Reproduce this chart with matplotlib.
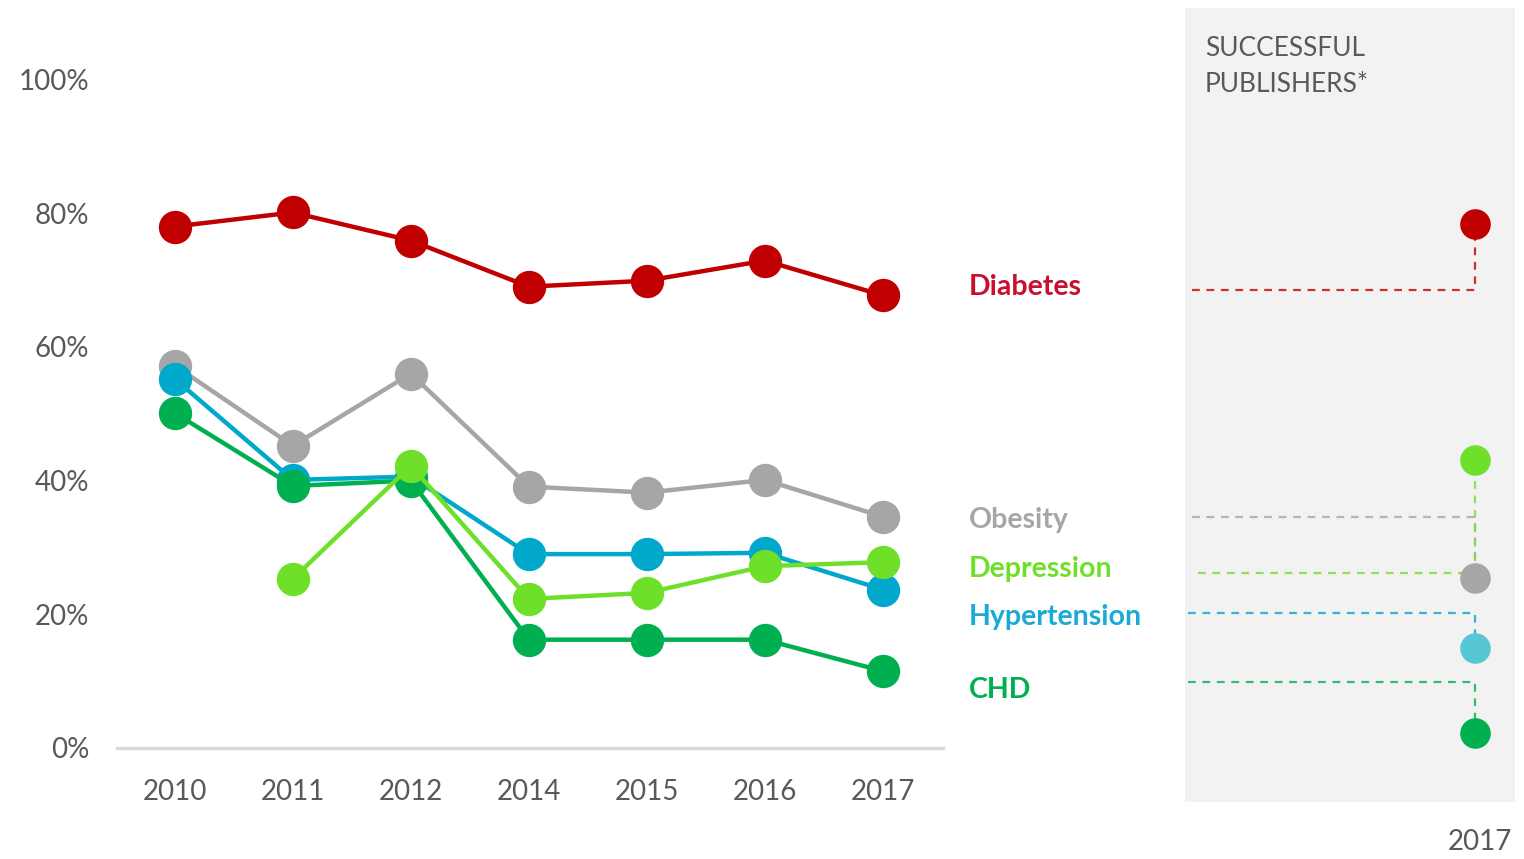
import matplotlib.pyplot as plt

plt.rcParams['font.family'] = ['Lato', 'DejaVu Sans']

# datos
years = ["2010", "2011", "2012", "2014", "2015", "2016", "2017"]
diabetes = [78.0, 80.1, 75.9, 69.0, 69.9, 72.9, 67.7]
obesity = [57.2, 45.2, 56.0, 39.1, 38.2, 40.1, 34.6]
hypertension = [55.2, 40.1, 40.6, 29.0, 29.0, 29.2, 23.7]
depression = [None, 25.3, 42.2, 22.3, 23.2, 27.2, 27.8]
chd = [50.1, 39.2, 40.0, 16.2, 16.2, 16.2, 11.5]

# valores de "successful publishers" 2017
publishers = {"Diabetes": 78.4, "Depression": 43.1, "Obesity": 25.4,
              "Hypertension": 15.0, "CHD": 2.2}

colors = {"Diabetes": "#c00000", "Obesity": "#a6a6a6", "Hypertension": "#00a8cc",
          "Depression": "#6fe02a", "CHD": "#00b050"}
label_colors = {"Diabetes": "#c8102e", "Obesity": "#a6a6a6", "Hypertension": "#1aaad6",
                "Depression": "#6fe02a", "CHD": "#00b050"}
right_dot_colors = dict(colors, Hypertension="#57c8d3")
# altura de las lineas punteadas y linea base de las etiquetas
line_y = {"Diabetes": 68.6, "Obesity": 34.6, "Depression": 26.2,
          "Hypertension": 20.2, "CHD": 9.9}
text_y = {"Diabetes": 67.7, "Obesity": 32.9, "Depression": 25.6,
          "Hypertension": 18.4, "CHD": 7.5}

W, H = 1524, 859
fig = plt.figure(figsize=(W / 100, H / 100), dpi=100)

# eje principal
ax = fig.add_axes([117 / W, (H - 748) / H, (943 - 117) / W, (748 - 46) / H])
ax.set_xlim(-0.49, 6.51)
ax.set_ylim(0, 105)
x = list(range(len(years)))

series = [("Obesity", obesity), ("Hypertension", hypertension), ("CHD", chd),
          ("Depression", depression), ("Diabetes", diabetes)]
for name, vals in series:
    xs = [i for i, v in zip(x, vals) if v is not None]
    ys = [v for v in vals if v is not None]
    ax.plot(xs, ys, color=colors[name], lw=3.2, marker="o", ms=23,
            solid_capstyle="round", clip_on=False)

for s in ["top", "right", "left"]:
    ax.spines[s].set_visible(False)
ax.spines["bottom"].set_color("#d9d9d9")
ax.spines["bottom"].set_linewidth(2.5)
ax.set_yticks([0, 20, 40, 60, 80, 100])
ax.set_yticklabels([f"{v}%" for v in [0, 20, 40, 60, 80, 100]])
ax.set_xticks(x)
ax.set_xticklabels(years)
ax.tick_params(length=0, labelsize=20, colors="#595959")
ax.tick_params(axis="y", pad=20)
ax.tick_params(axis="x", pad=22)

# etiquetas de las series
for name, yv in text_y.items():
    ax.text(6.73, yv, name, color=label_colors[name], fontsize=20.5,
            fontweight="bold", va="baseline", ha="left", clip_on=False)

# panel derecho
top_px, bot_px = 8, 802
scale = (748 - 80) / 100
panel = fig.add_axes([1185 / W, (H - bot_px) / H, (1515 - 1185) / W, (bot_px - top_px) / H])
panel.set_facecolor("#f2f2f2")
panel.set_xlim(0, 1)
panel.set_ylim(-(bot_px - 748) / scale, (748 - top_px) / scale)
for s in panel.spines.values():
    s.set_visible(False)
panel.set_xticks([])
panel.set_yticks([])

dot_x = 0.879
starts = {"Diabetes": 0.02, "Obesity": 0.02, "Depression": 0.04,
          "Hypertension": 0.01, "CHD": 0.01}
for name in ["Obesity", "Diabetes", "Hypertension", "CHD", "Depression"]:
    ly = line_y[name]
    py = publishers[name]
    panel.plot([starts[name], dot_x, dot_x], [ly, ly, py], color=colors[name],
               lw=1.6, ls=(0, (3.5, 3)), alpha=0.8, zorder=1)
for name, py in publishers.items():
    panel.plot(dot_x, py, "o", ms=21, color=right_dot_colors[name], zorder=3)

panel.text(0.06, 106.6, "SUCCESSFUL\nPUBLISHERS*", color="#595959", fontsize=19,
           va="top", ha="left", linespacing=1.55)

fig.text(1512 / W, 1 - 842 / H, "2017", color="#595959", fontsize=20,
         ha="right", va="center")

fig.savefig("out.png", dpi=100)
